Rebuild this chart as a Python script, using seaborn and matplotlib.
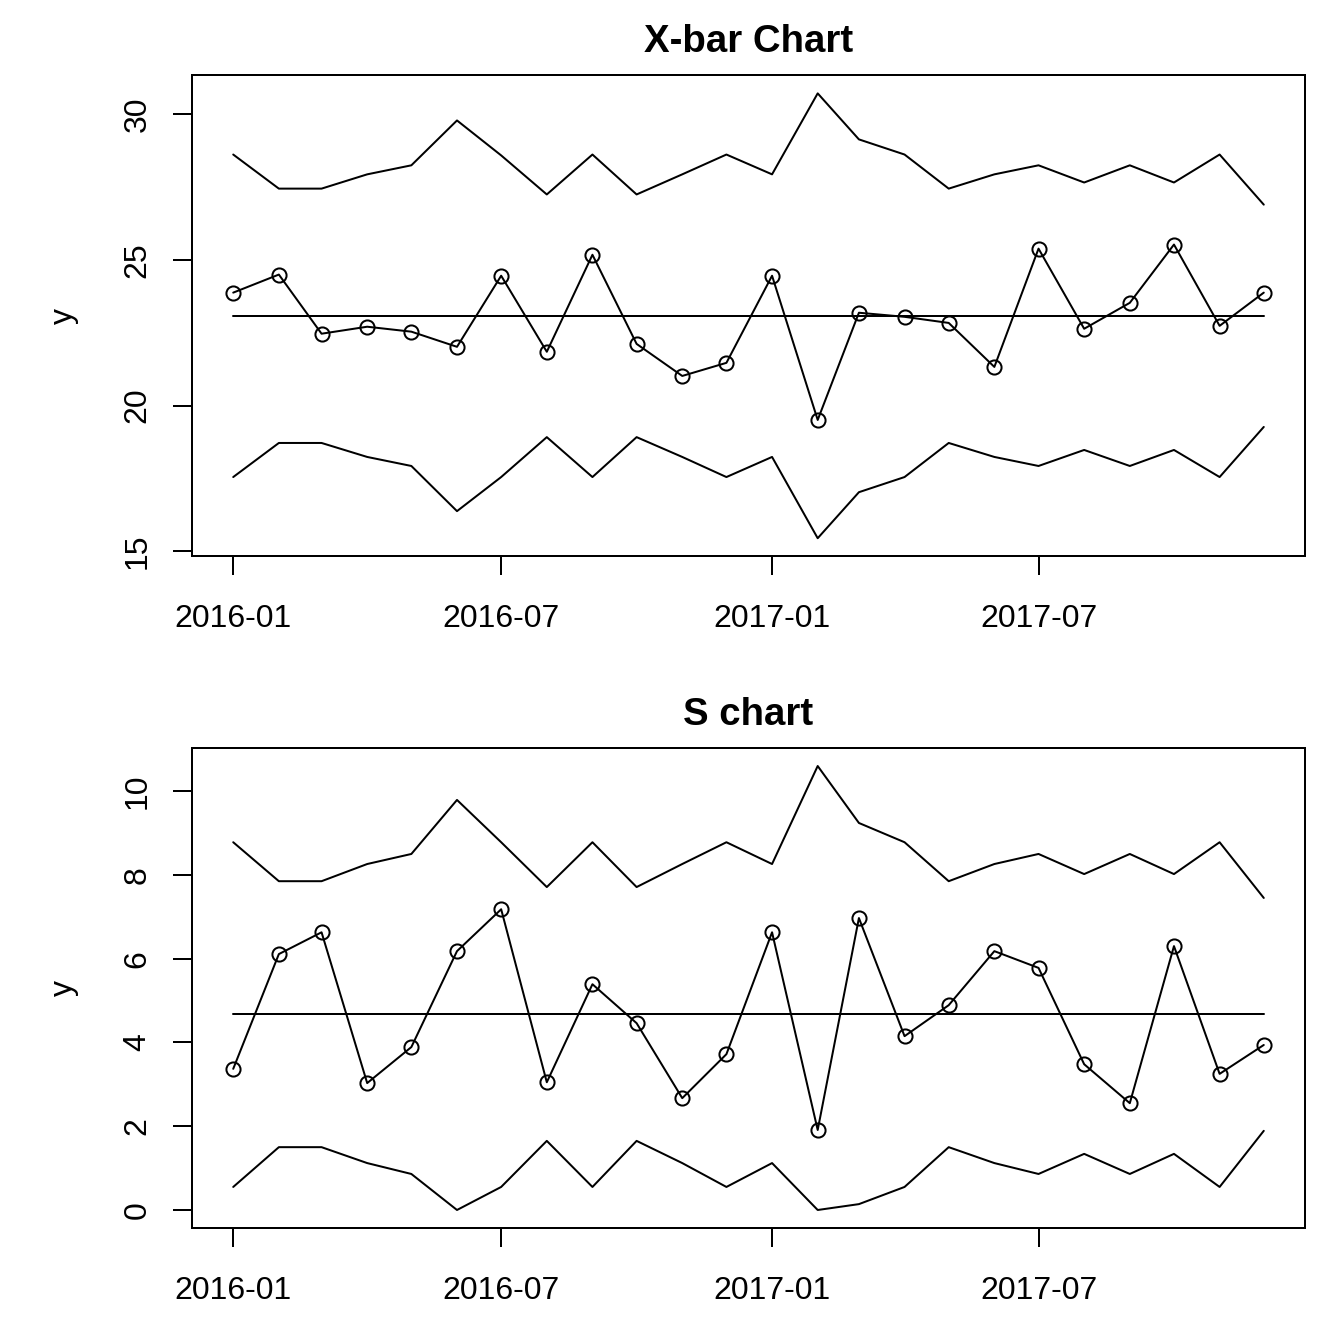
import pandas as pd
import matplotlib
matplotlib.use("Agg")
import matplotlib.pyplot as plt
import matplotlib.dates as mdates
import seaborn as sns

# monthly subgroups
months = ["2016-01", "2016-02", "2016-03", "2016-04", "2016-05", "2016-06",
          "2016-07", "2016-08", "2016-09", "2016-10", "2016-11", "2016-12",
          "2017-01", "2017-02", "2017-03", "2017-04", "2017-05", "2017-06",
          "2017-07", "2017-08", "2017-09", "2017-10", "2017-11", "2017-12"]

# X-bar chart
xbar = [23.88, 24.50, 22.47, 22.71, 22.54, 22.02, 24.46, 21.85, 25.18, 22.12, 21.02, 21.47,
        24.46, 19.51, 23.19, 23.05, 22.84, 21.33, 25.39, 22.64, 23.53, 25.53, 22.74, 23.88]
xbar_ucl = [28.62, 27.45, 27.45, 27.94, 28.25, 29.79, 28.59, 27.25, 28.62, 27.25, 27.94, 28.62,
            27.94, 30.72, 29.14, 28.62, 27.45, 27.94, 28.25, 27.66, 28.25, 27.66, 28.62, 26.90]
xbar_lcl = [17.55, 18.72, 18.72, 18.24, 17.93, 16.38, 17.55, 18.92, 17.55, 18.92, 18.24, 17.55,
            18.24, 15.45, 17.03, 17.55, 18.72, 18.24, 17.93, 18.48, 17.93, 18.48, 17.55, 19.27]
xbar_cl = 23.09

# S chart
s_vals = [3.37, 6.11, 6.63, 3.03, 3.89, 6.18, 7.18, 3.05, 5.39, 4.46, 2.67, 3.72,
          6.63, 1.91, 6.97, 4.15, 4.89, 6.18, 5.78, 3.48, 2.55, 6.30, 3.25, 3.94]
s_ucl = [8.78, 7.85, 7.85, 8.26, 8.50, 9.79, 8.78, 7.71, 8.78, 7.71, 8.26, 8.78,
         8.26, 10.60, 9.24, 8.78, 7.85, 8.26, 8.50, 8.02, 8.50, 8.02, 8.78, 7.45]
s_lcl = [0.55, 1.50, 1.50, 1.12, 0.86, 0.00, 0.55, 1.65, 0.55, 1.65, 1.12, 0.55,
         1.12, 0.00, 0.14, 0.55, 1.50, 1.12, 0.86, 1.34, 0.86, 1.34, 0.55, 1.89]
s_cl = 4.68

tick_dates = ["2016-01", "2016-07", "2017-01", "2017-07"]

sns.set_theme(style="white")
plt.rcParams['font.family'] = ['Liberation Sans', 'DejaVu Sans']
plt.rcParams['axes.linewidth'] = 0.75
plt.rcParams['axes.edgecolor'] = 'black'
plt.rcParams['text.color'] = 'black'
plt.rcParams['axes.labelcolor'] = 'black'
plt.rcParams['axes.titlecolor'] = 'black'

dates = pd.to_datetime(months)


def control_chart(ax, vals, ucl, lcl, cl, title, ylim, yticks):
    df = pd.DataFrame({"month": dates, "value": vals, "ucl": ucl, "lcl": lcl,
                       "cl": [cl] * len(vals)})
    kw = dict(color="black", linewidth=0.75, ax=ax)
    sns.lineplot(data=df, x="month", y="ucl", **kw)
    sns.lineplot(data=df, x="month", y="lcl", **kw)
    sns.lineplot(data=df, x="month", y="cl", **kw)
    sns.lineplot(data=df, x="month", y="value", marker="o", markersize=5.3,
                 markerfacecolor="none", markeredgecolor="black",
                 markeredgewidth=0.75, **kw)

    ax.set_xlim(pd.Timestamp("2015-12-04"), pd.Timestamp("2017-12-29"))
    ax.set_ylim(*ylim)
    ax.set_xticks(pd.to_datetime(tick_dates))
    ax.xaxis.set_major_formatter(mdates.DateFormatter("%Y-%m"))
    ax.set_yticks(yticks)
    ax.set_yticklabels([str(t) for t in yticks], rotation=90, va="center")
    ax.tick_params(axis="both", direction="out", length=7.2, width=0.75,
                   labelsize=12, color="black", labelcolor="black",
                   left=True, bottom=True)
    ax.tick_params(axis="x", pad=10.8)
    ax.tick_params(axis="y", pad=7.6)
    for sp in ax.spines.values():
        sp.set_visible(True)
        sp.set_color("black")
        sp.set_linewidth(0.75)

    ax.set_title(title, fontsize=14.4, fontweight="bold", pad=8.6, color="black")
    ax.set_xlabel("")
    ax.set_ylabel("y", fontsize=12, color="black")
    ax.yaxis.set_label_coords(-0.115, 0.5)
    ax.yaxis.label.set_va("center")


fig = plt.figure(figsize=(7, 7), dpi=192)
ax1 = fig.add_axes([192 / 1344, 1 - 556 / 1344, 1113 / 1344, 481 / 1344])
ax2 = fig.add_axes([192 / 1344, 1 - 1228 / 1344, 1113 / 1344, 480 / 1344])

control_chart(ax1, xbar, xbar_ucl, xbar_lcl, xbar_cl, "X-bar Chart",
              (14.84, 31.35), [15, 20, 25, 30])
control_chart(ax2, s_vals, s_ucl, s_lcl, s_cl, "S chart",
              (-0.43, 11.03), [0, 2, 4, 6, 8, 10])

fig.savefig("out.png", dpi=192, facecolor="white")
plt.close(fig)
